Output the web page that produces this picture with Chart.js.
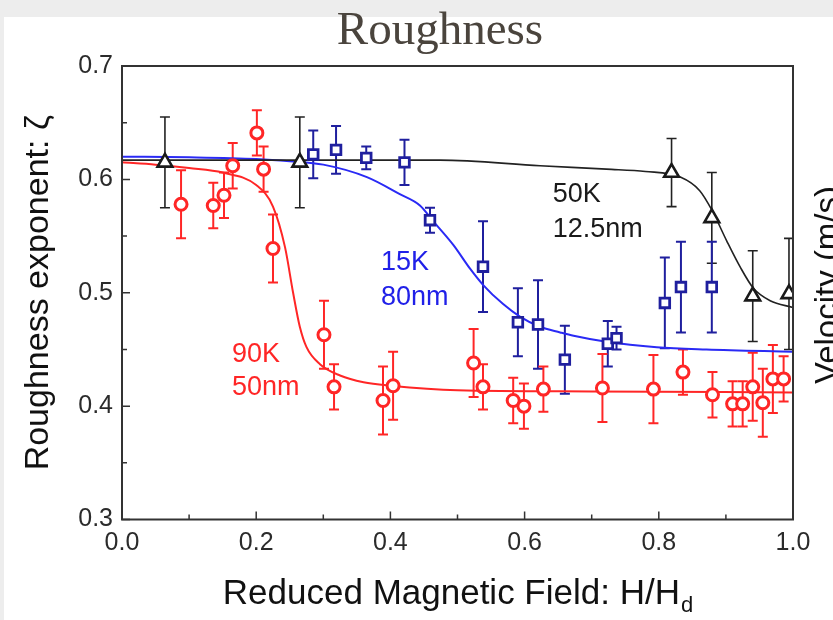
<!DOCTYPE html>
<html>
<head>
<meta charset="utf-8">
<title>Roughness</title>
<script src="https://cdn.jsdelivr.net/npm/chart.js@4.4.1/dist/chart.umd.min.js"></script>
<style>
  html, body { margin: 0; padding: 0; }
  body { width: 833px; height: 620px; background: #ededed; position: relative; overflow: hidden; }
  #card { position: absolute; left: 4px; top: 17px; right: 0; bottom: 0; background: #fff; }
  #roughChart { position: absolute; left: 0; top: 0; }
</style>
</head>
<body>
<div id="card"></div>
<canvas id="roughChart" width="833" height="620"></canvas>
<script>
// 90K, 50nm film: reduced field, roughness exponent, error
const h90 = [0.088, 0.136, 0.152, 0.165, 0.201, 0.211, 0.225, 0.301, 0.316, 0.389, 0.404, 0.524, 0.538,
             0.583, 0.599, 0.628, 0.716, 0.792, 0.836, 0.880, 0.910, 0.925, 0.940, 0.955, 0.970, 0.986];
const zeta90 = [0.578, 0.577, 0.586, 0.612, 0.641, 0.609, 0.539, 0.463, 0.417, 0.405, 0.418, 0.438, 0.417,
                0.405, 0.400, 0.415, 0.416, 0.415, 0.430, 0.410, 0.402, 0.402, 0.417, 0.403, 0.424, 0.424];
const err90 = [0.030, 0.020, 0.020, 0.020, 0.020, 0.020, 0.030, 0.030, 0.020, 0.030, 0.030, 0.030, 0.020,
               0.020, 0.020, 0.020, 0.030, 0.030, 0.020, 0.020, 0.020, 0.020, 0.030, 0.030, 0.030, 0.020];

// 15K, 80nm film
const h15 = [0.285, 0.319, 0.364, 0.421, 0.459, 0.538, 0.590, 0.620, 0.660, 0.724, 0.737, 0.809, 0.833, 0.879];
const zeta15 = [0.622, 0.626, 0.619, 0.615, 0.564, 0.523, 0.474, 0.472, 0.441, 0.455, 0.460, 0.491, 0.505, 0.505];
const err15 = [0.021, 0.021, 0.010, 0.020, 0.011, 0.040, 0.030, 0.039, 0.030, 0.020, 0.010, 0.040, 0.040, 0.040];

// 50K, 12.5nm film
const h50 = [0.064, 0.265, 0.819, 0.879, 0.940, 0.994];
const zeta50 = [0.615, 0.615, 0.606, 0.566, 0.497, 0.499];
const err50 = [0.040, 0.040, 0.030, 0.040, 0.040, 0.049];

// fitted curves
const fit90H = [0, 0.05, 0.10, 0.15, 0.20, 0.225, 0.243, 0.255, 0.265, 0.275, 0.295, 0.325, 0.36, 0.40, 0.50, 0.70, 1.0];
const fit90Z = [0.615, 0.613, 0.610, 0.606, 0.595, 0.576, 0.540, 0.500, 0.470, 0.452, 0.437, 0.427, 0.421, 0.418, 0.414, 0.413, 0.412];
const fit15H = [0, 0.10, 0.20, 0.25, 0.30, 0.365, 0.414, 0.444, 0.464, 0.494, 0.519, 0.538, 0.568, 0.593, 0.623,
                0.653, 0.673, 0.722, 0.797, 0.871, 1.0];
const fit15Z = [0.620, 0.6195, 0.618, 0.616, 0.613, 0.602, 0.587, 0.577, 0.563, 0.542, 0.521, 0.507, 0.490, 0.479, 0.470,
                0.465, 0.462, 0.4567, 0.452, 0.450, 0.448];
const fit50H = [0, 0.30, 0.474, 0.623, 0.722, 0.78, 0.832, 0.861, 0.879, 0.901, 0.921, 0.941, 0.966, 1.0];
const fit50Z = [0.617, 0.617, 0.617, 0.612, 0.609, 0.607, 0.602, 0.590, 0.573, 0.546, 0.523, 0.504, 0.493, 0.487];

const xTicks = [0, 0.2, 0.4, 0.6, 0.8, 1.0];
const yTicks = [0.3, 0.4, 0.5, 0.6, 0.7];

const RED = '#ff2626';
const BLUE = '#2a2af5';
const NAVY = '#1f1f9e';
const BLACK = '#1a1a1a';

const pts = (xs, ys) => xs.map((v, i) => ({ x: v, y: ys[i] }));

function errorBars(ctx, xs, ys, es, sx, sy, color, lw) {
    ctx.save();
    ctx.strokeStyle = color;
    ctx.lineWidth = lw;
    xs.forEach((v, i) => {
        const px = sx.getPixelForValue(v);
        const top = sy.getPixelForValue(ys[i] + es[i]);
        const bot = sy.getPixelForValue(ys[i] - es[i]);
        ctx.beginPath();
        ctx.moveTo(px, top); ctx.lineTo(px, bot);
        ctx.moveTo(px - 5, top); ctx.lineTo(px + 5, top);
        ctx.moveTo(px - 5, bot); ctx.lineTo(px + 5, bot);
        ctx.stroke();
    });
    ctx.restore();
}

const decorations = {
    id: 'decorations',
    beforeDatasetsDraw(chart) {
        const { ctx, chartArea: a, scales: { x, y } } = chart;
        ctx.save();
        ctx.beginPath();
        ctx.rect(a.left, a.top, a.right - a.left, a.bottom - a.top);
        ctx.clip();
        errorBars(ctx, h50, zeta50, err50, x, y, '#222', 1.6);
        errorBars(ctx, h15, zeta15, err15, x, y, NAVY, 2);
        errorBars(ctx, h90, zeta90, err90, x, y, RED, 2);
        ctx.restore();
    },
    afterDatasetsDraw(chart) {
        const { ctx, chartArea: a, scales: { x, y } } = chart;
        ctx.save();
        // plot frame
        ctx.strokeStyle = '#333';
        ctx.lineWidth = 2;
        ctx.strokeRect(a.left, a.top, a.right - a.left, a.bottom - a.top);

        // inward ticks on bottom and left axes
        ctx.lineWidth = 1.5;
        ctx.beginPath();
        for (let i = 0; i <= 10; i++) {
            const px = x.getPixelForValue(i / 10);
            const len = i % 2 === 0 ? 8 : 5;
            ctx.moveTo(px, a.bottom); ctx.lineTo(px, a.bottom - len);
        }
        for (let i = 0; i <= 8; i++) {
            const py = y.getPixelForValue(0.3 + i * 0.05);
            const len = i % 2 === 0 ? 8 : 5;
            ctx.moveTo(a.left, py); ctx.lineTo(a.left + len, py);
        }
        ctx.stroke();

        // series labels
        ctx.font = '27px "Liberation Sans", Arial, sans-serif';
        ctx.textAlign = 'left';
        ctx.textBaseline = 'alphabetic';
        ctx.fillStyle = BLACK;
        ctx.fillText('50K', x.getPixelForValue(0.642), y.getPixelForValue(0.580));
        ctx.fillText('12.5nm', x.getPixelForValue(0.642), y.getPixelForValue(0.549));
        ctx.fillStyle = '#2020e8';
        ctx.fillText('15K', x.getPixelForValue(0.386), y.getPixelForValue(0.520));
        ctx.fillText('80nm', x.getPixelForValue(0.386), y.getPixelForValue(0.489));
        ctx.fillStyle = RED;
        ctx.fillText('90K', x.getPixelForValue(0.164), y.getPixelForValue(0.439));
        ctx.fillText('50nm', x.getPixelForValue(0.164), y.getPixelForValue(0.410));

        // y axis title
        ctx.fillStyle = '#111';
        ctx.font = '34px "Liberation Sans", Arial, sans-serif';
        ctx.textAlign = 'center';
        ctx.textBaseline = 'middle';
        ctx.save();
        ctx.translate(39, (a.top + a.bottom) / 2);
        ctx.rotate(-Math.PI / 2);
        ctx.fillText('Roughness exponent: ζ', 0, 0);
        ctx.restore();

        // x axis title with subscript
        const main = 'Reduced Magnetic Field: H/H';
        ctx.font = '35px "Liberation Sans", Arial, sans-serif';
        const wMain = ctx.measureText(main).width;
        ctx.font = '22px "Liberation Sans", Arial, sans-serif';
        const wSub = ctx.measureText('d').width;
        const x0 = (a.left + a.right) / 2 - (wMain + wSub) / 2;
        ctx.textAlign = 'left';
        ctx.textBaseline = 'alphabetic';
        ctx.font = '35px "Liberation Sans", Arial, sans-serif';
        ctx.fillText(main, x0, 604);
        ctx.font = '22px "Liberation Sans", Arial, sans-serif';
        ctx.fillText('d', x0 + wMain + 1, 612);

        // right-hand axis title, running off the card
        ctx.font = '33px "Liberation Sans", Arial, sans-serif';
        ctx.textAlign = 'center';
        ctx.save();
        ctx.translate(838, 285);
        ctx.rotate(-Math.PI / 2);
        ctx.fillText('Velocity (m/s)', 0, 0);
        ctx.restore();

        // chart heading
        ctx.font = '47px "Liberation Serif", "Times New Roman", serif';
        ctx.fillStyle = '#4a443d';
        ctx.textAlign = 'center';
        ctx.fillText('Roughness', 440, 44);
        ctx.restore();
    }
};

const ctx = document.getElementById('roughChart').getContext('2d');
const roughChart = new Chart(ctx, {
    type: 'scatter',
    data: {
        datasets: [
            {
                label: '50K 12.5nm',
                data: pts(h50, zeta50),
                pointStyle: 'triangle',
                pointRadius: 8.5,
                pointHoverRadius: 8.5,
                borderColor: BLACK,
                backgroundColor: '#fff',
                borderWidth: 2.6,
                order: 0
            },
            {
                label: '15K 80nm',
                data: pts(h15, zeta15),
                pointStyle: 'rect',
                pointRadius: 6.8,
                pointHoverRadius: 6.8,
                borderColor: NAVY,
                backgroundColor: '#fff',
                borderWidth: 2.8,
                order: 0
            },
            {
                label: '90K 50nm',
                data: pts(h90, zeta90),
                pointStyle: 'circle',
                pointRadius: 6,
                pointHoverRadius: 6,
                borderColor: RED,
                backgroundColor: '#fff',
                borderWidth: 3,
                order: 0
            },
            {
                type: 'line',
                label: '50K fit',
                data: pts(fit50H, fit50Z),
                borderColor: '#222',
                borderWidth: 1.6,
                pointRadius: 0,
                cubicInterpolationMode: 'monotone',
                order: 1
            },
            {
                type: 'line',
                label: '15K fit',
                data: pts(fit15H, fit15Z),
                borderColor: BLUE,
                borderWidth: 2,
                pointRadius: 0,
                cubicInterpolationMode: 'monotone',
                order: 1
            },
            {
                type: 'line',
                label: '90K fit',
                data: pts(fit90H, fit90Z),
                borderColor: RED,
                borderWidth: 2,
                pointRadius: 0,
                cubicInterpolationMode: 'monotone',
                order: 1
            }
        ]
    },
    options: {
        responsive: false,
        animation: false,
        events: [],
        layout: { padding: { top: 66, right: 40, left: 0, bottom: 0 } },
        plugins: {
            legend: { display: false },
            tooltip: { enabled: false }
        },
        scales: {
            x: {
                type: 'linear',
                min: 0,
                max: 1,
                afterFit: (s) => { s.height = 100.5; },
                afterBuildTicks: (s) => { s.ticks = xTicks.map(v => ({ value: v })); },
                grid: { display: false, drawTicks: false },
                border: { display: false },
                ticks: {
                    padding: 9,
                    color: '#2b2b2b',
                    font: { family: '"Liberation Sans", Arial, sans-serif', size: 25 },
                    callback: (v) => v.toFixed(1)
                }
            },
            y: {
                min: 0.3,
                max: 0.7,
                afterFit: (s) => { s.width = 122; },
                afterBuildTicks: (s) => { s.ticks = yTicks.map(v => ({ value: v })); },
                grid: { display: false, drawTicks: false },
                border: { display: false },
                ticks: {
                    padding: 9,
                    color: '#2b2b2b',
                    font: { family: '"Liberation Sans", Arial, sans-serif', size: 25 },
                    callback: (v) => v.toFixed(1)
                }
            }
        }
    },
    plugins: [decorations]
});
</script>
</body>
</html>
